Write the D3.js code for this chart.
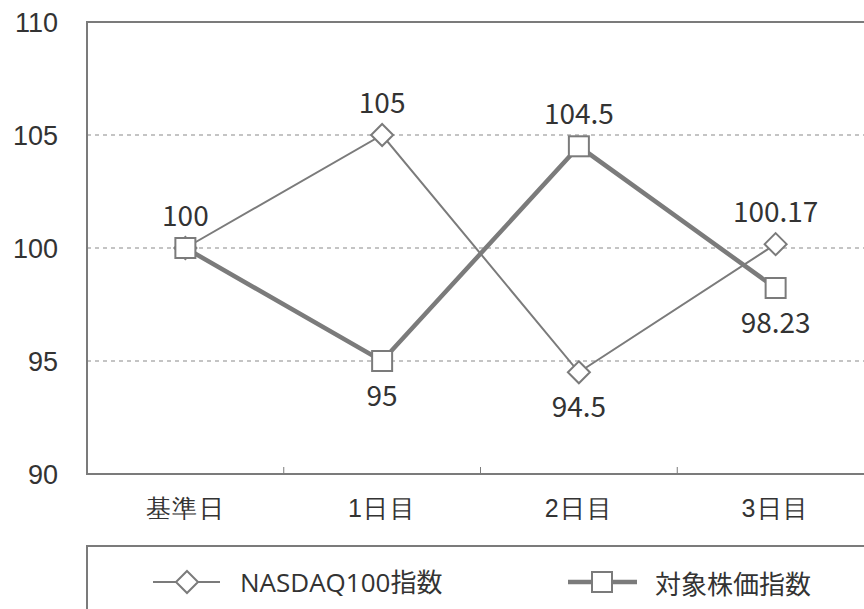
<!DOCTYPE html>
<html>
<head>
<meta charset="utf-8">
<script src="https://cdn.jsdelivr.net/npm/d3@7"></script>
<style>
  body { margin: 0; background: #fff; }
  svg { display: block; font-family: "Noto Sans CJK JP", "Noto Sans", sans-serif; }
</style>
</head>
<body>
<div id="chart"></div>
<script>
// chart data
var categories = ["基準日", "1日目", "2日目", "3日目"];
var nasdaq = [100, 105, 94.5, 100.17];
var stock = [100, 95, 104.5, 98.23];
var yTicks = [90, 95, 100, 105, 110];
var seriesNames = ["NASDAQ100指数", "対象株価指数"];

var width = 864, height = 609;
var margin = { left: 87, top: 22, right: -10, bottom: 135 }; // plot runs off the right edge
var plotW = width - margin.left - margin.right;
var plotH = height - margin.top - margin.bottom;
var grey = "#7b7b7b";

var svg = d3.select("#chart").append("svg")
    .attr("width", width).attr("height", height)
    .style("overflow", "hidden");

var g = svg.append("g").attr("transform", "translate(" + margin.left + "," + margin.top + ")");

var x = d3.scaleBand().domain(categories).range([0, plotW]);
var y = d3.scaleLinear().domain([90, 110]).range([plotH, 0]);

// dashed grid
g.selectAll(".grid").data(yTicks.filter(function(d) { return d > 90 && d < 110; }))
    .enter().append("line")
    .attr("x1", 0).attr("x2", plotW)
    .attr("y1", function(d) { return y(d); }).attr("y2", function(d) { return y(d); })
    .attr("stroke", "#8a8a8a").attr("stroke-width", 1.2)
    .attr("stroke-dasharray", "4,4");

// frame
g.append("path")
    .attr("d", "M" + plotW + ",0H0V" + plotH + "H" + plotW)
    .attr("fill", "none").attr("stroke", grey).attr("stroke-width", 2);

// y axis
var yAxis = d3.axisLeft(y).tickValues(yTicks).tickSize(0).tickPadding(29);
g.append("g").call(yAxis).call(function(a) {
    a.select(".domain").remove();
    a.selectAll("text").attr("font-size", 27).attr("fill", "#333")
        .attr("font-family", "inherit").attr("dy", null).attr("dominant-baseline", "central");
});

// x axis labels
var xAxis = d3.axisBottom(x).tickSize(0).tickPadding(0);
g.append("g").attr("transform", "translate(0," + plotH + ")").call(xAxis).call(function(a) {
    a.select(".domain").remove();
    a.selectAll("text").attr("font-size", 25).attr("fill", "#333").attr("font-family", "inherit")
        .attr("letter-spacing", 1.5)
        .attr("y", 34).attr("dy", null).attr("dominant-baseline", "central");
});

// boundary ticks between categories
g.selectAll(".xtick").data(categories.slice(1)).enter().append("line")
    .attr("x1", function(d) { return x(d); }).attr("x2", function(d) { return x(d); })
    .attr("y1", plotH).attr("y2", plotH - 7)
    .attr("stroke", grey).attr("stroke-width", 1);

var cx = function(d, i) { return x(categories[i]) + x.bandwidth() / 2; };
var line = d3.line().x(cx).y(function(d) { return y(d); });

// NASDAQ (thin, diamond)
g.append("path").datum(nasdaq).attr("d", line)
    .attr("fill", "none").attr("stroke", grey).attr("stroke-width", 2);
// stock (thick, square)
g.append("path").datum(stock).attr("d", line)
    .attr("fill", "none").attr("stroke", grey).attr("stroke-width", 4.5);

var diamond = "M0,-11L11,0L0,11L-11,0Z";
g.selectAll(".dia").data(nasdaq).enter().append("path")
    .attr("d", diamond)
    .attr("transform", function(d, i) { return "translate(" + cx(d, i) + "," + y(d) + ")"; })
    .attr("fill", "#fff").attr("stroke", grey).attr("stroke-width", 2);

g.selectAll(".sq").data(stock).enter().append("rect")
    .attr("x", function(d, i) { return cx(d, i) - 10; })
    .attr("y", function(d) { return y(d) - 10; })
    .attr("width", 20).attr("height", 20)
    .attr("fill", "#fff").attr("stroke", grey).attr("stroke-width", 2);

// value labels: higher value above, lower below, one label when equal
function labels(vals, other, skipEqual) {
    vals.forEach(function(v, i) {
        if (skipEqual && v === other[i]) return;
        var above = v >= other[i];
        g.append("text")
            .attr("x", cx(v, i))
            .attr("y", y(v) + (above ? -34 : 33))
            .attr("text-anchor", "middle")
            .attr("dominant-baseline", "central")
            .attr("font-size", 28).attr("fill", "#333")
            .text(v);
    });
}
labels(nasdaq, stock, false);
labels(stock, nasdaq, true);

// legend
var lg = svg.append("g");
lg.append("rect").attr("x", 87).attr("y", 546).attr("width", 800).attr("height", 100)
    .attr("fill", "none").attr("stroke", grey).attr("stroke-width", 2);
var ly = 582;
lg.append("line").attr("x1", 153).attr("x2", 220).attr("y1", ly).attr("y2", ly)
    .attr("stroke", grey).attr("stroke-width", 2);
lg.append("path").attr("d", diamond).attr("transform", "translate(187," + ly + ")")
    .attr("fill", "#fff").attr("stroke", grey).attr("stroke-width", 2);
lg.append("text").attr("x", 240).attr("y", ly).attr("dominant-baseline", "central")
    .attr("font-family", "'Open Sans', 'Noto Sans CJK JP', sans-serif")
    .attr("font-size", 26).attr("fill", "#333").text(seriesNames[0]);

lg.append("line").attr("x1", 568).attr("x2", 637).attr("y1", ly).attr("y2", ly)
    .attr("stroke", grey).attr("stroke-width", 4.5);
lg.append("rect").attr("x", 592).attr("y", ly - 10).attr("width", 20).attr("height", 20)
    .attr("fill", "#fff").attr("stroke", grey).attr("stroke-width", 2);
lg.append("text").attr("x", 655).attr("y", ly).attr("dominant-baseline", "central")
    .attr("font-size", 26).attr("fill", "#333").text(seriesNames[1]);
</script>
</body>
</html>
